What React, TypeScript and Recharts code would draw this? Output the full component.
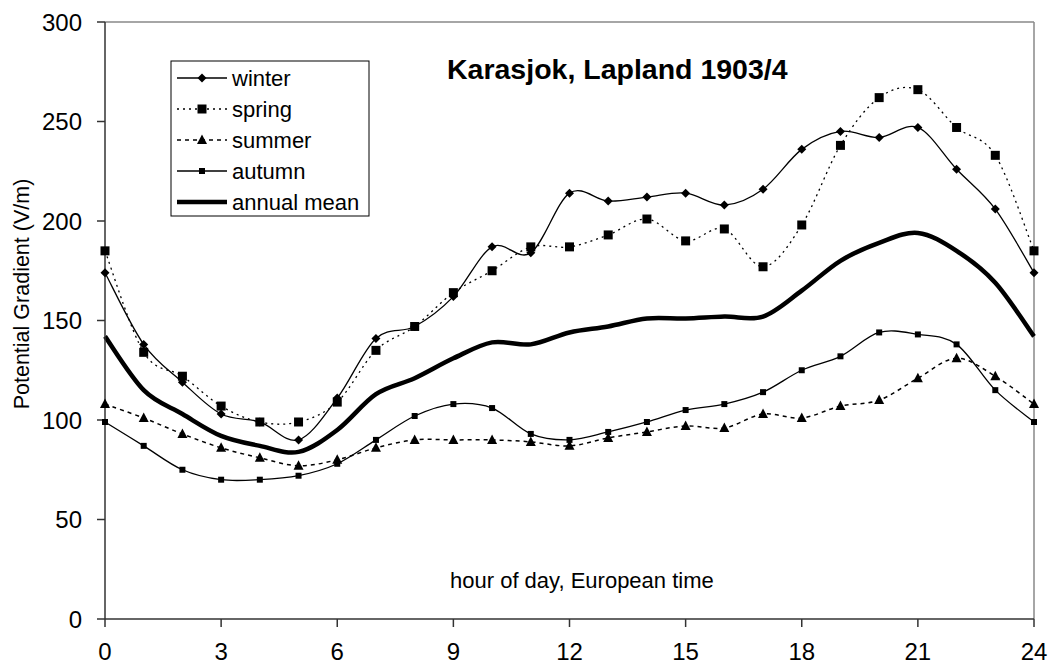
import React from "react";
import { LineChart, Line, XAxis, YAxis, ReferenceLine } from "recharts";

const hours = [0, 1, 2, 3, 4, 5, 6, 7, 8, 9, 10, 11, 12, 13, 14, 15, 16, 17, 18, 19, 20, 21, 22, 23, 24];
const winter = [174, 138, 119, 103, 99, 90, 111, 141, 147, 162, 187, 184, 214, 210, 212, 214, 208, 216, 236, 245, 242, 247, 226, 206, 174];
const spring = [185, 134, 122, 107, 99, 99, 109, 135, 147, 164, 175, 187, 187, 193, 201, 190, 196, 177, 198, 238, 262, 266, 247, 233, 185];
const summer = [108, 101, 93, 86, 81, 77, 80, 86, 90, 90, 90, 89, 87, 91, 94, 97, 96, 103, 101, 107, 110, 121, 131, 122, 108];
const autumn = [99, 87, 75, 70, 70, 72, 78, 90, 102, 108, 106, 93, 90, 94, 99, 105, 108, 114, 125, 132, 144, 143, 138, 115, 99];
const annualMean = [142, 115, 103, 92, 87, 84, 95, 113, 121, 131, 139, 138, 144, 147, 151, 151, 152, 152, 165, 180, 189, 194, 185, 169, 142];

const xTicks = [0, 3, 6, 9, 12, 15, 18, 21, 24];
const yTicks = [0, 50, 100, 150, 200, 250, 300];

const data = hours.map((h, i) => ({
  hour: h,
  winter: winter[i],
  spring: spring[i],
  summer: summer[i],
  autumn: autumn[i],
  mean: annualMean[i],
}));

const FONT = "'Liberation Sans', Arial, sans-serif";

// excel-style smoothing (catmull-rom through the points)
function smoothCurve(context: any) {
  let pts: number[][] = [];
  return {
    areaStart() {},
    areaEnd() {},
    lineStart() {
      pts = [];
    },
    lineEnd() {
      if (!pts.length) return;
      context.moveTo(pts[0][0], pts[0][1]);
      for (let i = 0; i < pts.length - 1; i++) {
        const p0 = pts[i - 1] || pts[i];
        const p1 = pts[i];
        const p2 = pts[i + 1];
        const p3 = pts[i + 2] || p2;
        context.bezierCurveTo(
          p1[0] + (p2[0] - p0[0]) / 6,
          p1[1] + (p2[1] - p0[1]) / 6,
          p2[0] - (p3[0] - p1[0]) / 6,
          p2[1] - (p3[1] - p1[1]) / 6,
          p2[0],
          p2[1]
        );
      }
    },
    point(x: number, y: number) {
      pts.push([+x, +y]);
    },
  };
}

const diamond = (cx: number, cy: number, r = 4.5) =>
  `M${cx},${cy - r}L${cx + r},${cy}L${cx},${cy + r}L${cx - r},${cy}Z`;
const square = (cx: number, cy: number, s: number) =>
  `M${cx - s / 2},${cy - s / 2}h${s}v${s}h${-s}Z`;
const triangle = (cx: number, cy: number) =>
  `M${cx},${cy - 5.5}L${cx + 5},${cy + 4}L${cx - 5},${cy + 4}Z`;

const dotDiamond = (p: any) => <path key={`w${p.index}`} d={diamond(p.cx, p.cy)} fill="#000" />;
const dotSquare = (p: any) => <path key={`s${p.index}`} d={square(p.cx, p.cy, 9)} fill="#000" />;
const dotTriangle = (p: any) => <path key={`m${p.index}`} d={triangle(p.cx, p.cy)} fill="#000" />;
const dotSmall = (p: any) => <path key={`a${p.index}`} d={square(p.cx, p.cy, 6)} fill="#000" />;

const legendItems = [
  { name: "winter", dash: undefined, width: 1.3, marker: (x: number, y: number) => diamond(x, y) },
  { name: "spring", dash: "2 4", width: 1.3, marker: (x: number, y: number) => square(x, y, 9) },
  { name: "summer", dash: "4 4", width: 1.5, marker: (x: number, y: number) => triangle(x, y) },
  { name: "autumn", dash: undefined, width: 1.3, marker: (x: number, y: number) => square(x, y, 6) },
  { name: "annual mean", dash: undefined, width: 4.5, marker: null },
];

export default function App() {
  return (
    <div style={{ position: "absolute", left: 0, top: 0, width: 1055, height: 670, background: "#fff" }}>
      <LineChart width={1055} height={670} data={data} margin={{ top: 22, right: 21, left: 0, bottom: 0 }}>
        <XAxis
          dataKey="hour"
          type="number"
          domain={[0, 24]}
          ticks={xTicks}
          interval={0}
          height={51}
          tickSize={8}
          tickMargin={16}
          stroke="#333"
          strokeWidth={1.5}
          tick={{ fill: "#000", fontSize: 24, fontFamily: FONT }}
        />
        <YAxis
          type="number"
          domain={[0, 300]}
          ticks={yTicks}
          interval={0}
          width={105}
          tickSize={8}
          tickMargin={15}
          stroke="#333"
          strokeWidth={1.5}
          tick={{ fill: "#000", fontSize: 24, fontFamily: FONT }}
        />
        <ReferenceLine y={300} stroke="#888" strokeWidth={1.5} />
        <ReferenceLine x={24} stroke="#888" strokeWidth={1.5} />
        <Line dataKey="mean" type={smoothCurve as any} stroke="#000" strokeWidth={4.5} dot={false} isAnimationActive={false} />
        <Line dataKey="autumn" type={smoothCurve as any} stroke="#000" strokeWidth={1.3} dot={dotSmall} isAnimationActive={false} />
        <Line dataKey="summer" type={smoothCurve as any} stroke="#000" strokeWidth={1.5} strokeDasharray="4 4" dot={dotTriangle} isAnimationActive={false} />
        <Line dataKey="spring" type={smoothCurve as any} stroke="#000" strokeWidth={1.3} strokeDasharray="2 4" dot={dotSquare} isAnimationActive={false} />
        <Line dataKey="winter" type={smoothCurve as any} stroke="#000" strokeWidth={1.3} dot={dotDiamond} isAnimationActive={false} />
      </LineChart>

      <svg width={1055} height={670} style={{ position: "absolute", left: 0, top: 0, pointerEvents: "none" }} fontFamily={FONT}>
        <text x={447} y={79} fontSize={28.5} fontWeight="bold" fill="#000">
          Karasjok, Lapland 1903/4
        </text>
        <text x={450} y={588} fontSize={22} fill="#000">
          hour of day, European time
        </text>
        <text x={21} y={294} fontSize={21.5} fill="#000" textAnchor="middle" dy="0.35em" transform="rotate(-90 21 294)">
          Potential Gradient (V/m)
        </text>

        <rect x={171} y={61} width={198} height={155} fill="#fff" stroke="#000" strokeWidth={1} />
        {legendItems.map((it, i) => {
          const y = 78 + i * 31;
          return (
            <g key={it.name}>
              <line x1={177} x2={227} y1={y} y2={y} stroke="#000" strokeWidth={it.width} strokeDasharray={it.dash} />
              {it.marker && <path d={it.marker(202, y)} fill="#000" />}
              <text x={232} y={y} dy="0.35em" fontSize={22} fill="#000">
                {it.name}
              </text>
            </g>
          );
        })}
      </svg>
    </div>
  );
}
